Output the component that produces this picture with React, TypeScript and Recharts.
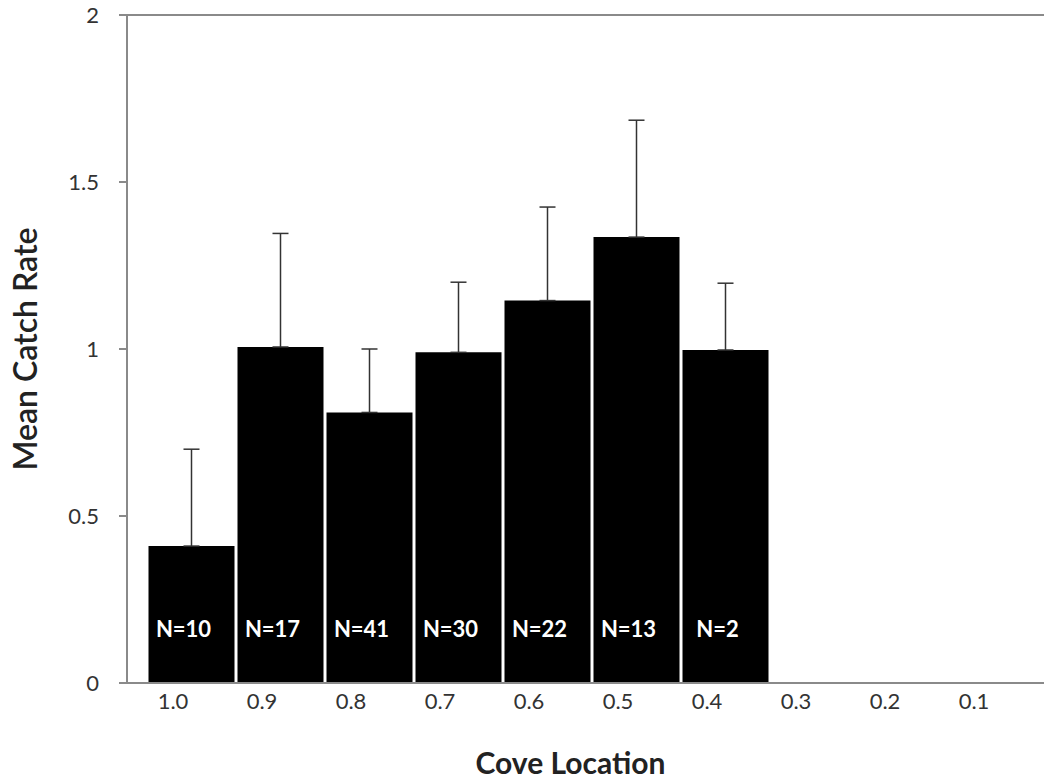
import {
  BarChart,
  Bar,
  XAxis,
  YAxis,
  ErrorBar,
  LabelList,
  ReferenceLine,
} from "recharts";

const coveLocations = ["1.0", "0.9", "0.8", "0.7", "0.6", "0.5", "0.4", "0.3", "0.2", "0.1"];
const meanCatchRate = [0.41, 1.006, 0.81, 0.99, 1.145, 1.335, 0.997, null, null, null];
const upperError = [0.29, 0.34, 0.19, 0.21, 0.28, 0.35, 0.2, null, null, null];
const sampleLabels = ["N=10", "N=17", "N=41", "N=30", "N=22", "N=13", "N=2", null, null, null];
const yTicks = [0, 0.5, 1, 1.5, 2];

const data = coveLocations.map((loc, i) => ({
  loc,
  rate: meanCatchRate[i],
  err: upperError[i] == null ? null : [0, upperError[i]],
  n: sampleLabels[i],
}));

const FONT = "Lato, 'Open Sans', sans-serif";

// category labels in the original sit a bit left of the bar centres
function CoveTick(props: any) {
  const { x, y, payload } = props;
  return (
    <text
      x={x - 18}
      y={y}
      dy="0.78em"
      textAnchor="middle"
      fill="#333"
      fontSize={22}
      fontFamily={FONT}
    >
      {payload.value}
    </text>
  );
}

export default function App() {
  return (
    <div style={{ position: "absolute", left: 0, top: 0, background: "#fff" }}>
      <BarChart
        width={1044}
        height={784}
        data={data}
        margin={{ top: 15, right: 0, bottom: 0, left: 0 }}
      >
        <ReferenceLine y={2} stroke="#8a8a8a" strokeWidth={2} />
        <XAxis
          dataKey="loc"
          height={101}
          padding={{ left: 19.5, right: 7.5 }}
          stroke="#8a8a8a"
          strokeWidth={2}
          tickLine={false}
          tickSize={0}
          tickMargin={9}
          tick={<CoveTick />}
          interval={0}
          label={{
            value: "Cove Location",
            position: "insideBottom",
            offset: 10,
            dx: -15,
            fill: "#222",
            fontSize: 30,
            fontWeight: 700,
            fontFamily: FONT,
          }}
        />
        <YAxis
          width={127}
          domain={[0, 2]}
          ticks={yTicks}
          stroke="#8a8a8a"
          strokeWidth={2}
          tickSize={8}
          tickMargin={20}
          tick={{ fill: "#333", fontSize: 22, fontFamily: FONT }}
          label={{
            value: "Mean Catch Rate",
            angle: -90,
            position: "insideLeft",
            offset: 26,
            fill: "#222",
            fontSize: 32,
            fontWeight: 600,
            fontFamily: FONT,
            style: { textAnchor: "middle" },
          }}
        />
        <Bar dataKey="rate" fill="#000" barSize={86} isAnimationActive={false}>
          <ErrorBar dataKey="err" width={8} stroke="#333" strokeWidth={1.5} direction="y" />
          <LabelList
            dataKey="n"
            position="insideBottom"
            offset={46}
            dx={-8}
            fill="#fff"
            fontSize={22}
            fontWeight={700}
            fontFamily={FONT}
          />
        </Bar>
      </BarChart>
    </div>
  );
}
